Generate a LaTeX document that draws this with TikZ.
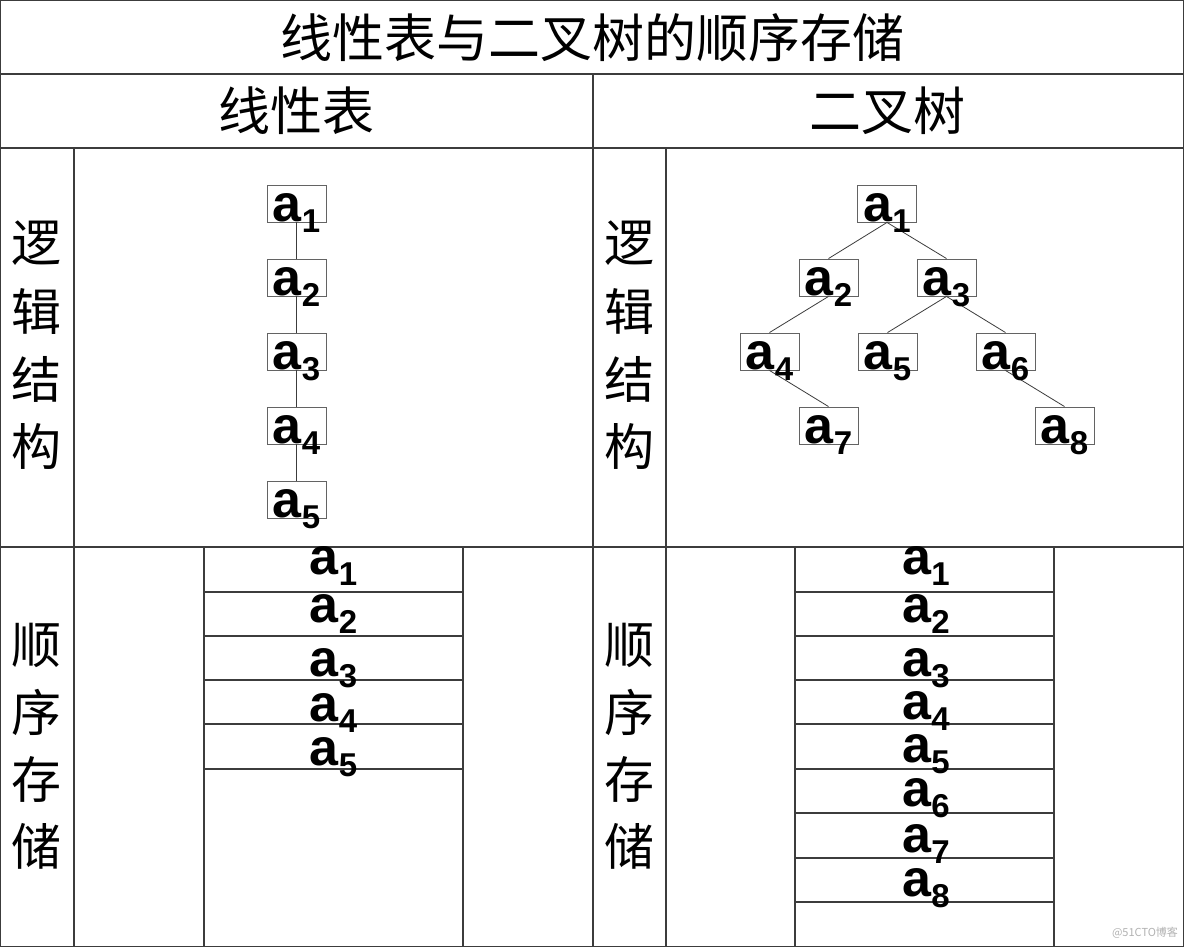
\documentclass[tikz,border=0pt]{standalone}
\usepackage{fontspec}
\setmainfont{Liberation Sans}
\newfontfamily\cjk{Noto Sans CJK SC}
\newcommand{\ai}[1]{a\raisebox{-11pt}{\fontsize{33}{33}\selectfont #1}}
\definecolor{ln}{RGB}{60,60,60}
\tikzset{
  grid/.style={draw=ln, line width=1.2pt},
  ebox/.style={draw=ln!80, line width=0.9pt, minimum width=59pt, minimum height=37pt, inner sep=0pt},
  elab/.style={font=\fontsize{52}{52}\selectfont\bfseries, inner sep=0pt, anchor=base},
  ttl/.style={font=\cjk\fontsize{52}{52}\selectfont, inner sep=0pt},
  side/.style={font=\cjk\fontsize{50}{50}\selectfont, inner sep=0pt},
  edge/.style={draw=ln, line width=0.8pt},
  wm/.style={font=\cjk\fontsize{11}{11}\selectfont, text=black!30, inner sep=0pt}
}
\begin{document}
\begin{tikzpicture}[x=1pt,y=-1pt]
\useasboundingbox (0,0) rectangle (1184,947);
\fill[white] (0,0) rectangle (1184,947);
% table frame
\draw[grid] (0.6,0.6) rectangle (1183.4,946.4);
\draw[grid] (0,74) -- (1184,74);
\draw[grid] (0,148) -- (1184,148);
\draw[grid] (0,547) -- (1184,547);
\draw[grid] (593,74) -- (593,947);
\draw[grid] (74,148) -- (74,947);
\draw[grid] (666,148) -- (666,947);
% storage tables
\draw[grid] (204,547) -- (204,947) (463,547) -- (463,947);
\foreach \yy in {592,636,680,724,769} \draw[grid] (204,\yy) -- (463,\yy);
\draw[grid] (795,547) -- (795,947) (1054,547) -- (1054,947);
\foreach \yy in {592,636,680,724,769,813,858,902} \draw[grid] (795,\yy) -- (1054,\yy);
% headings
\node[ttl] (title) at (592,37.5) {线性表与二叉树的顺序存储};
\node[ttl] (hl) at (296.5,111) {线性表};
\node[ttl] (hr) at (887.5,111) {二叉树};
% side labels
\node[side] (lL1) at (37,243.5) {逻};
\node[side] (lL2) at (37,311) {辑};
\node[side] (lL3) at (37,379) {结};
\node[side] (lL4) at (37,446.5) {构};
\node[side] (lS1) at (37,645) {顺};
\node[side] (lS2) at (37,712.5) {序};
\node[side] (lS3) at (37,779.5) {存};
\node[side] (lS4) at (37,846) {储};
\node[side] (rL1) at (629.5,243.5) {逻};
\node[side] (rL2) at (629.5,311) {辑};
\node[side] (rL3) at (629.5,379) {结};
\node[side] (rL4) at (629.5,446.5) {构};
\node[side] (rS1) at (629.5,645) {顺};
\node[side] (rS2) at (629.5,712.5) {序};
\node[side] (rS3) at (629.5,779.5) {存};
\node[side] (rS4) at (629.5,846) {储};
% linear list
\node[ebox] (l1) at (296.5,203.5) {};
\node[ebox] (l2) at (296.5,277.5) {};
\node[ebox] (l3) at (296.5,351.5) {};
\node[ebox] (l4) at (296.5,425.5) {};
\node[ebox] (l5) at (296.5,499.5) {};
\draw[edge] (l1.south) -- (l2.north);
\draw[edge] (l2.south) -- (l3.north);
\draw[edge] (l3.south) -- (l4.north);
\draw[edge] (l4.south) -- (l5.north);
\node[elab] (l1t) at ([yshift=1pt]l1.south) {\ai{1}};
\node[elab] (l2t) at ([yshift=1pt]l2.south) {\ai{2}};
\node[elab] (l3t) at ([yshift=1pt]l3.south) {\ai{3}};
\node[elab] (l4t) at ([yshift=1pt]l4.south) {\ai{4}};
\node[elab] (l5t) at ([yshift=1pt]l5.south) {\ai{5}};
% binary tree
\node[ebox] (t1) at (887,203.5) {};
\node[ebox] (t2) at (828.5,277.5) {};
\node[ebox] (t3) at (946.5,277.5) {};
\node[ebox] (t4) at (769.5,351.5) {};
\node[ebox] (t5) at (887.5,351.5) {};
\node[ebox] (t6) at (1005.5,351.5) {};
\node[ebox] (t7) at (828.5,425.5) {};
\node[ebox] (t8) at (1064.5,425.5) {};
\draw[edge] (t1.south) -- (t2.north);
\draw[edge] (t1.south) -- (t3.north);
\draw[edge] (t2.south) -- (t4.north);
\draw[edge] (t3.south) -- (t5.north);
\draw[edge] (t3.south) -- (t6.north);
\draw[edge] (t4.south) -- (t7.north);
\draw[edge] (t6.south) -- (t8.north);
\node[elab] (t1t) at ([yshift=1pt]t1.south) {\ai{1}};
\node[elab] (t2t) at ([yshift=1pt]t2.south) {\ai{2}};
\node[elab] (t3t) at ([yshift=1pt]t3.south) {\ai{3}};
\node[elab] (t4t) at ([yshift=1pt]t4.south) {\ai{4}};
\node[elab] (t5t) at ([yshift=1pt]t5.south) {\ai{5}};
\node[elab] (t6t) at ([yshift=1pt]t6.south) {\ai{6}};
\node[elab] (t7t) at ([yshift=1pt]t7.south) {\ai{7}};
\node[elab] (t8t) at ([yshift=1pt]t8.south) {\ai{8}};
% sequential storage: linear list
\node[elab] (s1) at (333.5,574) {\ai{1}};
\node[elab] (s2) at (333.5,622) {\ai{2}};
\node[elab] (s3) at (333.5,676) {\ai{3}};
\node[elab] (s4) at (333.5,721) {\ai{4}};
\node[elab] (s5) at (333.5,765.5) {\ai{5}};
% sequential storage: binary tree
\node[elab] (u1) at (926,574) {\ai{1}};
\node[elab] (u2) at (926,622) {\ai{2}};
\node[elab] (u3) at (926,676) {\ai{3}};
\node[elab] (u4) at (926,719) {\ai{4}};
\node[elab] (u5) at (926,762) {\ai{5}};
\node[elab] (u6) at (926,806) {\ai{6}};
\node[elab] (u7) at (926,852) {\ai{7}};
\node[elab] (u8) at (926,896) {\ai{8}};
% watermark
\node[wm] (wmk) at (1145,933) {@51CTO博客};
\end{tikzpicture}
\end{document}
